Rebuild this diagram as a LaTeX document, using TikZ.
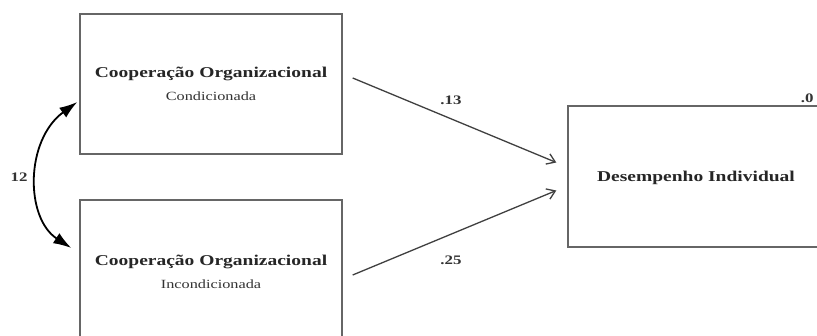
\documentclass[tikz,border=0pt]{standalone}
\usepackage{fontspec}
\setmainfont[FakeStretch=1.3]{Liberation Serif}
\usetikzlibrary{arrows.meta}
\begin{document}
\begin{tikzpicture}[x=1pt,y=-1pt,
  box/.style={draw=black!60,line width=1.4pt,rectangle,inner sep=0pt},
  title/.style={font=\fontsize{15}{17}\selectfont\bfseries,text=black!85},
  sub/.style={font=\fontsize{12.5}{14}\selectfont,text=black!80},
  coef/.style={font=\fontsize{13}{15}\selectfont\bfseries,text=black!80},
  path/.style={draw=black!75,line width=1.3pt,-{Straight Barb[length=8pt,width=11pt,line width=1.3pt]}},
  cov/.style={draw=black,line width=1.8pt,{Latex[length=18pt,width=12pt]}-{Latex[length=18pt,width=12pt]}}]
\useasboundingbox (0,0) rectangle (817,336);
\clip (0,0) rectangle (817,336);
\fill[white] (0,0) rectangle (817,336);

% latent constructs
\node[box,minimum width=262pt,minimum height=140pt] (cond) at (211,84) {};
\node[box,minimum width=262pt,minimum height=150pt] (incond) at (211,275) {};
\node[box,minimum width=262pt,minimum height=141pt] (desemp) at (699,176.5) {};

% box labels
\node[title] (condT) at (211,74) {Cooperação Organizacional};
\node[sub]   (condS) at (211,96) {Condicionada};
\node[title] (incondT) at (211,262) {Cooperação Organizacional};
\node[sub]   (incondS) at (211,284) {Incondicionada};
\node[title] (desempT) at (696,178) {Desempenho Individual};

% structural paths
\draw[path] ([xshift=10pt,yshift=6pt]cond.east) -- ([xshift=-11pt,yshift=14pt]desemp.west);
\draw[path] ([xshift=10pt]incond.east) -- ([xshift=-11pt,yshift=-14pt]desemp.west);
\node[coef] (b1) at (451,100) {.13};
\node[coef] (b2) at (451,260) {.25};

% covariance
\draw[cov] ([xshift=-2pt,yshift=-18pt]cond.west) .. controls (25,140) and (25,218) .. ([xshift=-8pt,yshift=27pt]incond.west);
\node[coef] (r) at (19,177) {12};

% explained variance
\node[coef,anchor=east] (r2) at (817,98) {.0};
\end{tikzpicture}
\end{document}
